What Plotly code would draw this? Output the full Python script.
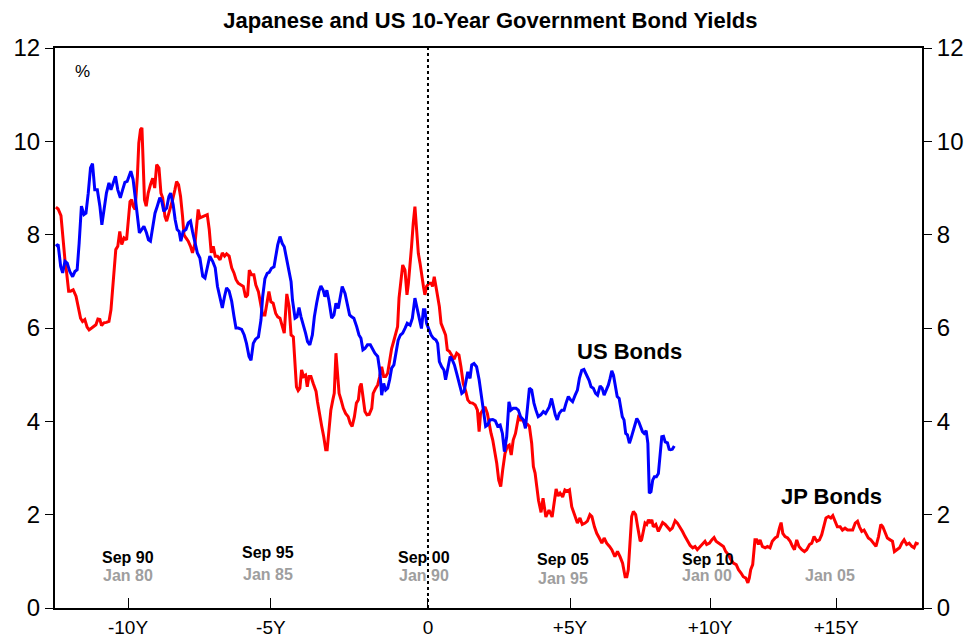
import plotly.graph_objects as go

# ---- Data (x = years relative to alignment date; y = 10Y yield, %) ----
# US: 0 = Sep 2000 ; JP: 0 = Jan 1990
US_T = [-13.10, -13.02, -12.93, -12.86, -12.78, -12.70, -12.61, -12.51, -12.43, -12.35,
        -12.28, -12.20, -12.11, -12.04, -11.96, -11.88, -11.81, -11.73, -11.64, -11.55,
        -11.48, -11.40, -11.32, -11.23, -11.16, -11.08, -11.00, -10.92, -10.83, -10.75,
        -10.67, -10.59, -10.52, -10.46, -10.38, -10.31, -10.23, -10.16, -10.08, -10.00,
        -9.91, -9.84, -9.77, -9.69, -9.61, -9.53, -9.44, -9.37, -9.30, -9.20,
        -9.12, -9.06, -8.97, -8.90, -8.83, -8.76, -8.70, -8.62, -8.52, -8.44,
        -8.36, -8.29, -8.20, -8.12, -8.03, -7.93, -7.85, -7.77, -7.68, -7.58,
        -7.49, -7.41, -7.32, -7.24, -7.16, -7.09, -7.00, -6.91, -6.83, -6.76,
        -6.68, -6.56, -6.47, -6.39, -6.30, -6.23, -6.15, -6.07, -5.97, -5.88,
        -5.82, -5.74, -5.66, -5.59, -5.51, -5.42, -5.36, -5.29, -5.21, -5.13,
        -5.06, -4.98, -4.89, -4.82, -4.77, -4.68, -4.61, -4.54, -4.47, -4.39,
        -4.31, -4.24, -4.16, -4.07, -4.00, -3.92, -3.84, -3.77, -3.69, -3.63,
        -3.56, -3.49, -3.39, -3.31, -3.24, -3.16, -3.09, -3.02, -2.92, -2.84,
        -2.76, -2.69, -2.61, -2.51, -2.43, -2.36, -2.29, -2.22, -2.13, -2.03,
        -1.95, -1.87, -1.77, -1.70, -1.63, -1.56, -1.49, -1.42, -1.35, -1.28,
        -1.20, -1.13, -1.05, -0.97, -0.89, -0.81, -0.73, -0.63, -0.55, -0.46,
        -0.38, -0.31, -0.23, -0.16, -0.11, -0.05, 0.04, 0.11, 0.19, 0.28,
        0.34, 0.40, 0.48, 0.56, 0.62, 0.69, 0.78, 0.86, 0.93, 1.01,
        1.09, 1.19, 1.27, 1.34, 1.40, 1.48, 1.54, 1.62, 1.71, 1.80,
        1.87, 1.95, 2.03, 2.10, 2.18, 2.28, 2.37, 2.45, 2.54, 2.62,
        2.69, 2.77, 2.85, 2.92, 3.00, 3.10, 3.18, 3.26, 3.36, 3.43,
        3.50, 3.57, 3.65, 3.73, 3.80, 3.88, 3.97, 4.06, 4.14, 4.21,
        4.27, 4.35, 4.41, 4.48, 4.55, 4.62, 4.71, 4.79, 4.86, 4.94,
        5.02, 5.09, 5.18, 5.26, 5.33, 5.41, 5.49, 5.56, 5.67, 5.74,
        5.82, 5.90, 5.97, 6.06, 6.13, 6.20, 6.27, 6.35, 6.41, 6.47,
        6.53, 6.60, 6.66, 6.73, 6.78, 6.84, 6.90, 6.96, 7.02, 7.09,
        7.15, 7.21, 7.28, 7.35, 7.42, 7.49, 7.55, 7.61, 7.68, 7.74,
        7.77, 7.79, 7.85, 7.91, 7.97, 8.04, 8.11, 8.17, 8.23, 8.29,
        8.35, 8.43, 8.49, 8.54, 8.60, 8.67]
US_Y = [7.75, 7.79, 7.32, 7.18, 7.43, 7.39, 7.21, 7.10, 7.21, 7.25,
        7.82, 8.61, 8.43, 8.46, 8.89, 9.43, 9.52, 8.96, 8.96, 8.61,
        8.21, 8.54, 8.89, 9.11, 8.96, 9.11, 9.25, 8.96, 8.79, 8.96,
        9.12, 9.14, 9.25, 9.36, 9.18, 8.82, 8.39, 8.04, 8.11, 8.18,
        8.04, 7.89, 7.86, 8.18, 8.46, 8.61, 8.79, 8.71, 8.50, 8.57,
        8.82, 8.89, 8.64, 8.32, 8.11, 8.07, 7.86, 8.07, 8.11, 8.25,
        8.29, 8.07, 7.82, 7.61, 7.50, 7.11, 7.07, 7.32, 7.54, 7.43,
        7.29, 6.89, 6.61, 6.43, 6.68, 6.86, 6.79, 6.57, 6.25, 6.00,
        6.00, 5.97, 5.85, 5.67, 5.39, 5.31, 5.67, 5.76, 5.81, 6.17,
        6.67, 7.06, 7.17, 7.19, 7.28, 7.31, 7.53, 7.78, 7.96, 7.81,
        7.74, 7.46, 7.17, 6.99, 6.60, 6.21, 6.24, 6.44, 6.24, 6.03,
        5.89, 5.71, 5.64, 5.85, 6.24, 6.53, 6.78, 6.90, 6.81, 6.67,
        6.81, 6.60, 6.21, 6.28, 6.53, 6.42, 6.71, 6.89, 6.74, 6.49,
        6.28, 6.24, 6.21, 6.03, 5.85, 5.78, 5.53, 5.56, 5.64, 5.64,
        5.53, 5.46, 5.39, 5.10, 4.56, 4.81, 4.67, 4.71, 4.89, 5.14,
        5.21, 5.46, 5.74, 5.85, 5.89, 5.99, 6.10, 6.06, 6.21, 6.64,
        6.42, 6.17, 5.99, 6.39, 6.39, 6.10, 5.96, 5.85, 5.78, 5.74,
        5.67, 5.28, 5.17, 5.10, 4.89, 5.14, 5.39, 5.31, 5.21, 5.03,
        4.81, 4.60, 4.64, 4.92, 5.06, 4.92, 5.21, 5.24, 5.17, 4.89,
        4.60, 4.24, 3.89, 3.92, 4.03, 4.04, 4.01, 3.90, 3.92, 3.74,
        3.35, 3.67, 4.42, 4.24, 4.28, 4.28, 4.24, 4.10, 4.03, 3.85,
        4.31, 4.71, 4.67, 4.39, 4.24, 4.10, 4.14, 4.21, 4.17, 4.24,
        4.31, 4.49, 4.31, 4.14, 4.03, 4.17, 4.24, 4.24, 4.39, 4.53,
        4.46, 4.42, 4.56, 4.67, 4.92, 5.09, 5.11, 5.03, 4.88, 4.74,
        4.71, 4.60, 4.56, 4.76, 4.71, 4.56, 4.67, 4.78, 4.92, 5.08,
        4.99, 4.74, 4.53, 4.49, 4.31, 4.10, 4.03, 3.74, 3.71, 3.53,
        3.64, 3.78, 3.92, 4.06, 3.99, 3.89, 3.78, 3.74, 3.80, 3.53,
        2.96, 2.46, 2.49, 2.74, 2.81, 2.81, 2.88, 3.24, 3.67, 3.68,
        3.56, 3.54, 3.40, 3.39, 3.40, 3.47]

JP_T = [-13.10, -13.02, -12.92, -12.84, -12.78, -12.72, -12.65, -12.58, -12.49, -12.39,
        -12.31, -12.23, -12.16, -12.08, -12.00, -11.93, -11.84, -11.76, -11.69, -11.62,
        -11.55, -11.49, -11.41, -11.32, -11.23, -11.16, -11.10, -11.05, -10.99, -10.92,
        -10.85, -10.78, -10.70, -10.61, -10.55, -10.49, -10.43, -10.38, -10.31, -10.23,
        -10.18, -10.12, -10.07, -10.02, -9.98, -9.92, -9.85, -9.77, -9.69, -9.62,
        -9.55, -9.47, -9.40, -9.34, -9.26, -9.20, -9.13, -9.06, -8.99, -8.91,
        -8.85, -8.78, -8.71, -8.64, -8.59, -8.52, -8.44, -8.36, -8.29, -8.20,
        -8.15, -8.09, -8.03, -7.93, -7.85, -7.77, -7.70, -7.63, -7.56, -7.49,
        -7.41, -7.32, -7.24, -7.16, -7.09, -7.00, -6.91, -6.83, -6.76, -6.68,
        -6.58, -6.50, -6.42, -6.35, -6.29, -6.21, -6.13, -6.06, -5.97, -5.89,
        -5.82, -5.74, -5.66, -5.60, -5.53, -5.45, -5.36, -5.29, -5.21, -5.13,
        -5.06, -5.00, -4.97, -4.89, -4.82, -4.74, -4.68, -4.63, -4.57, -4.51,
        -4.45, -4.38, -4.31, -4.25, -4.19, -4.12, -4.04, -3.94, -3.89, -3.83,
        -3.74, -3.67, -3.60, -3.55, -3.49, -3.42, -3.35, -3.30, -3.24, -3.19,
        -3.13, -3.06, -2.98, -2.90, -2.81, -2.74, -2.67, -2.59, -2.52, -2.45,
        -2.40, -2.35, -2.29, -2.22, -2.15, -2.07, -1.98, -1.93, -1.84, -1.77,
        -1.70, -1.63, -1.56, -1.49, -1.42, -1.35, -1.28, -1.21, -1.14, -1.07,
        -1.02, -0.95, -0.89, -0.81, -0.74, -0.69, -0.63, -0.58, -0.52, -0.46,
        -0.40, -0.34, -0.28, -0.22, -0.16, -0.11, -0.05, 0.04, 0.11, 0.16,
        0.22, 0.28, 0.34, 0.40, 0.46, 0.54, 0.62, 0.68, 0.75, 0.83,
        0.92, 1.01, 1.09, 1.16, 1.24, 1.33, 1.40, 1.48, 1.57, 1.66,
        1.74, 1.80, 1.85, 1.93, 2.01, 2.09, 2.16, 2.22, 2.28, 2.34,
        2.42, 2.49, 2.56, 2.63, 2.71, 2.79, 2.86, 2.93, 3.00, 3.08,
        3.15, 3.20, 3.26, 3.33, 3.42, 3.50, 3.57, 3.65, 3.71, 3.77,
        3.83, 3.89, 3.98, 4.05, 4.15, 4.26, 4.37, 4.51, 4.58, 4.65,
        4.74, 4.82, 4.91, 4.98, 5.06, 5.18, 5.26, 5.35, 5.43, 5.53,
        5.61, 5.70, 5.77, 5.86, 5.94, 6.03, 6.12, 6.20, 6.29, 6.39,
        6.47, 6.58, 6.67, 6.76, 6.85, 6.94, 7.00, 7.05, 7.11, 7.17,
        7.23, 7.31, 7.38, 7.47, 7.52, 7.58, 7.64, 7.70, 7.76, 7.82,
        7.88, 7.93, 8.02, 8.11, 8.17, 8.26, 8.35, 8.43, 8.52, 8.60,
        8.70, 8.78, 8.87, 8.96, 9.05, 9.14, 9.23, 9.32, 9.40, 9.48,
        9.58, 9.67, 9.75, 9.81, 9.91, 9.99, 10.07, 10.14, 10.22, 10.31,
        10.40, 10.48, 10.58, 10.66, 10.75, 10.85, 10.93, 11.02, 11.10, 11.19,
        11.26, 11.31, 11.36, 11.43, 11.48, 11.51, 11.57, 11.63, 11.69, 11.77,
        11.87, 11.95, 12.04, 12.12, 12.22, 12.30, 12.37, 12.43, 12.49, 12.57,
        12.66, 12.75, 12.83, 12.90, 12.98, 13.06, 13.16, 13.25, 13.33, 13.43,
        13.51, 13.59, 13.69, 13.78, 13.86, 13.94, 14.01, 14.10, 14.18, 14.25,
        14.33, 14.41, 14.51, 14.59, 14.68, 14.77, 14.86, 14.95, 15.04, 15.12,
        15.19, 15.27, 15.35, 15.42, 15.50, 15.59, 15.68, 15.77, 15.86, 15.94,
        16.01, 16.09, 16.17, 16.27, 16.35, 16.42, 16.50, 16.60, 16.68, 16.76,
        16.85, 16.94, 17.03, 17.11, 17.18, 17.27]
JP_Y = [8.59, 8.55, 8.41, 7.82, 7.46, 7.18, 6.79, 6.79, 6.82, 6.68,
        6.46, 6.21, 6.14, 6.18, 6.02, 5.96, 6.00, 6.04, 6.07, 6.19,
        6.18, 6.05, 6.11, 6.12, 6.14, 6.39, 6.79, 7.25, 7.68, 7.75,
        8.07, 7.79, 7.93, 7.89, 8.32, 8.71, 8.75, 8.61, 8.54, 9.25,
        9.96, 10.25, 10.29, 9.39, 8.75, 8.61, 8.89, 9.07, 9.21, 9.00,
        9.50, 9.43, 8.89, 8.79, 8.39, 8.29, 8.43, 8.61, 8.75, 8.96,
        9.14, 9.07, 8.82, 8.39, 8.00, 7.93, 7.86, 7.75, 7.61, 7.82,
        8.25, 8.54, 8.36, 8.39, 8.41, 8.43, 8.11, 7.61, 7.75, 7.54,
        7.54, 7.46, 7.61, 7.54, 7.59, 7.54, 7.29, 7.18, 7.04, 6.96,
        6.92, 6.89, 6.66, 6.71, 7.24, 7.14, 7.14, 6.92, 6.78, 6.53,
        6.28, 6.28, 6.60, 6.78, 6.56, 6.53, 6.31, 6.24, 6.21, 6.03,
        5.89, 6.46, 6.73, 6.46, 5.85, 5.81, 5.31, 4.74, 4.66, 4.71,
        5.10, 4.96, 4.99, 4.74, 4.96, 4.96, 4.81, 4.64, 4.42, 4.17,
        3.89, 3.67, 3.39, 3.39, 3.74, 4.24, 4.46, 4.60, 5.46, 5.10,
        4.60, 4.46, 4.28, 4.17, 4.10, 3.96, 3.89, 4.10, 4.39, 4.46,
        4.74, 4.81, 4.53, 4.21, 4.14, 4.15, 4.28, 4.60, 4.71, 4.78,
        4.96, 5.17, 4.96, 4.96, 5.03, 5.31, 5.56, 5.71, 5.85, 6.03,
        6.64, 6.99, 7.35, 7.24, 6.71, 6.95, 7.31, 7.74, 8.24, 8.60,
        8.10, 7.60, 7.39, 7.10, 6.89, 6.71, 6.89, 6.96, 6.96, 6.89,
        7.10, 6.89, 6.67, 6.46, 6.10, 5.96, 5.85, 5.53, 5.50, 5.42,
        5.33, 5.46, 5.42, 5.17, 4.81, 4.64, 4.46, 4.40, 4.39, 4.35,
        4.24, 3.78, 4.17, 4.24, 4.31, 4.17, 3.89, 3.74, 3.60, 3.39,
        3.10, 2.74, 2.60, 2.96, 3.31, 3.46, 3.49, 3.28, 3.60, 3.74,
        4.03, 4.14, 4.03, 4.03, 3.94, 3.94, 3.89, 3.53, 3.03, 2.89,
        2.60, 2.31, 2.05, 2.35, 1.95, 2.10, 1.95, 2.55, 2.40, 2.46,
        2.38, 2.53, 2.50, 2.53, 2.17, 1.96, 1.82, 1.93, 1.79, 1.82,
        1.86, 2.00, 1.96, 1.74, 1.60, 1.50, 1.39, 1.50, 1.39, 1.32,
        1.25, 1.10, 1.21, 1.10, 0.96, 0.67, 0.67, 0.82, 1.39, 1.96,
        2.07, 2.00, 1.74, 1.43, 1.46, 1.67, 1.82, 1.79, 1.89, 1.82,
        1.89, 1.74, 1.79, 1.64, 1.71, 1.83, 1.79, 1.74, 1.67, 1.71,
        1.87, 1.82, 1.74, 1.64, 1.53, 1.43, 1.34, 1.29, 1.32, 1.25,
        1.32, 1.39, 1.43, 1.36, 1.39, 1.46, 1.51, 1.43, 1.39, 1.36,
        1.32, 1.21, 1.14, 1.04, 0.96, 0.93, 0.82, 0.75, 0.67, 0.64,
        0.54, 0.64, 0.82, 0.93, 1.25, 1.46, 1.46, 1.36, 1.46, 1.32,
        1.29, 1.32, 1.29, 1.43, 1.50, 1.53, 1.71, 1.83, 1.60, 1.53,
        1.50, 1.43, 1.32, 1.25, 1.46, 1.32, 1.25, 1.21, 1.25, 1.36,
        1.39, 1.53, 1.43, 1.46, 1.57, 1.79, 1.93, 1.96, 1.93, 1.98,
        1.86, 1.74, 1.74, 1.67, 1.71, 1.67, 1.67, 1.67, 1.82, 1.86,
        1.74, 1.64, 1.67, 1.60, 1.50, 1.46, 1.39, 1.32, 1.53, 1.79,
        1.74, 1.60, 1.50, 1.46, 1.43, 1.21, 1.25, 1.29, 1.39, 1.46,
        1.36, 1.39, 1.32, 1.29, 1.39, 1.37]

# Axis ticks (as placed on the original chart)
X_TICK_POS = [-10.56, -5.53, 0.0, 5.0, 9.93, 14.37]
X_TICK_TEXT = ["-10Y", "-5Y", "0", "+5Y", "+10Y", "+15Y"]
X_RANGE = [-13.13, 17.39]
Y_RANGE = [0, 12]

# Date labels: US (top, black) and JP (bottom, grey)
US_DATE_LABELS = ["Sep 90", "Sep 95", "Sep 00", "Sep 05", "Sep 10"]
US_DATE_POS = [(-10.56, 1.09), (-5.63, 1.18), (-0.14, 1.09), (4.75, 1.03), (9.86, 1.05)]
JP_DATE_LABELS = ["Jan 80", "Jan 85", "Jan 90", "Jan 95", "Jan 00", "Jan 05"]
JP_DATE_POS = [(-10.56, 0.69), (-5.63, 0.71), (-0.14, 0.69), (4.75, 0.64), (9.82, 0.69), (14.15, 0.69)]

FONT = "Arial, Liberation Sans, sans-serif"

fig = go.Figure()
fig.add_trace(go.Scatter(x=JP_T, y=JP_Y, mode="lines", name="JP Bonds",
                         line=dict(color="#FF0000", width=3), showlegend=False))
fig.add_trace(go.Scatter(x=US_T, y=US_Y, mode="lines", name="US Bonds",
                         line=dict(color="#0000FF", width=3), showlegend=False))
fig.add_trace(go.Scatter(x=[None], y=[None], yaxis="y2", showlegend=False, hoverinfo="skip"))

annotations = []
for txt, (x, y) in zip(US_DATE_LABELS, US_DATE_POS):
    annotations.append(dict(x=x, y=y, xref="x", yref="y", text="<b>%s</b>" % txt,
                            showarrow=False, font=dict(family=FONT, size=16, color="black")))
for txt, (x, y) in zip(JP_DATE_LABELS, JP_DATE_POS):
    annotations.append(dict(x=x, y=y, xref="x", yref="y", text="<b>%s</b>" % txt,
                            showarrow=False, font=dict(family=FONT, size=16, color="#9E9E9E")))
annotations.append(dict(x=7.08, y=5.49, xref="x", yref="y", text="<b>US Bonds</b>",
                        showarrow=False, font=dict(family=FONT, size=22, color="black")))
annotations.append(dict(x=14.19, y=2.38, xref="x", yref="y", text="<b>JP Bonds</b>",
                        showarrow=False, font=dict(family=FONT, size=22, color="black")))
annotations.append(dict(x=-12.15, y=11.49, xref="x", yref="y", text="%",
                        showarrow=False, font=dict(family=FONT, size=17, color="black")))

fig.update_layout(
    width=971, height=638,
    margin=dict(l=55, r=49, t=48, b=30),
    paper_bgcolor="white", plot_bgcolor="white",
    title=dict(text="<b>Japanese and US 10-Year Government Bond Yields</b>",
               x=0.505, xanchor="center", y=1 - 20 / 638, yanchor="middle",
               font=dict(family=FONT, size=22, color="black")),
    xaxis=dict(range=X_RANGE, tickvals=X_TICK_POS, ticktext=X_TICK_TEXT,
               ticks="inside", ticklen=10, tickwidth=1, tickcolor="black",
               showline=True, linecolor="black", linewidth=2, mirror=True,
               showgrid=False, zeroline=False, ticklabelstandoff=1, automargin=False,
               tickfont=dict(family=FONT, size=19, color="black")),
    yaxis=dict(range=Y_RANGE, dtick=2, ticks="outside", ticklen=8, tickcolor="black",
               showline=True, linecolor="black", linewidth=2, showgrid=False,
               zeroline=False, automargin=False,
               tickfont=dict(family=FONT, size=24, color="black")),
    yaxis2=dict(range=Y_RANGE, dtick=2, overlaying="y", side="right", ticks="outside",
                ticklen=8, tickcolor="black", showline=True, linecolor="black", linewidth=2,
                showgrid=False, zeroline=False, automargin=False,
                tickfont=dict(family=FONT, size=24, color="black")),
    shapes=[dict(type="line", xref="x", yref="y", x0=0, x1=0, y0=Y_RANGE[0], y1=Y_RANGE[1],
                 line=dict(color="black", width=2, dash="dot"), layer="above")],
    annotations=annotations,
    showlegend=False,
)

fig.write_html("out.html")
